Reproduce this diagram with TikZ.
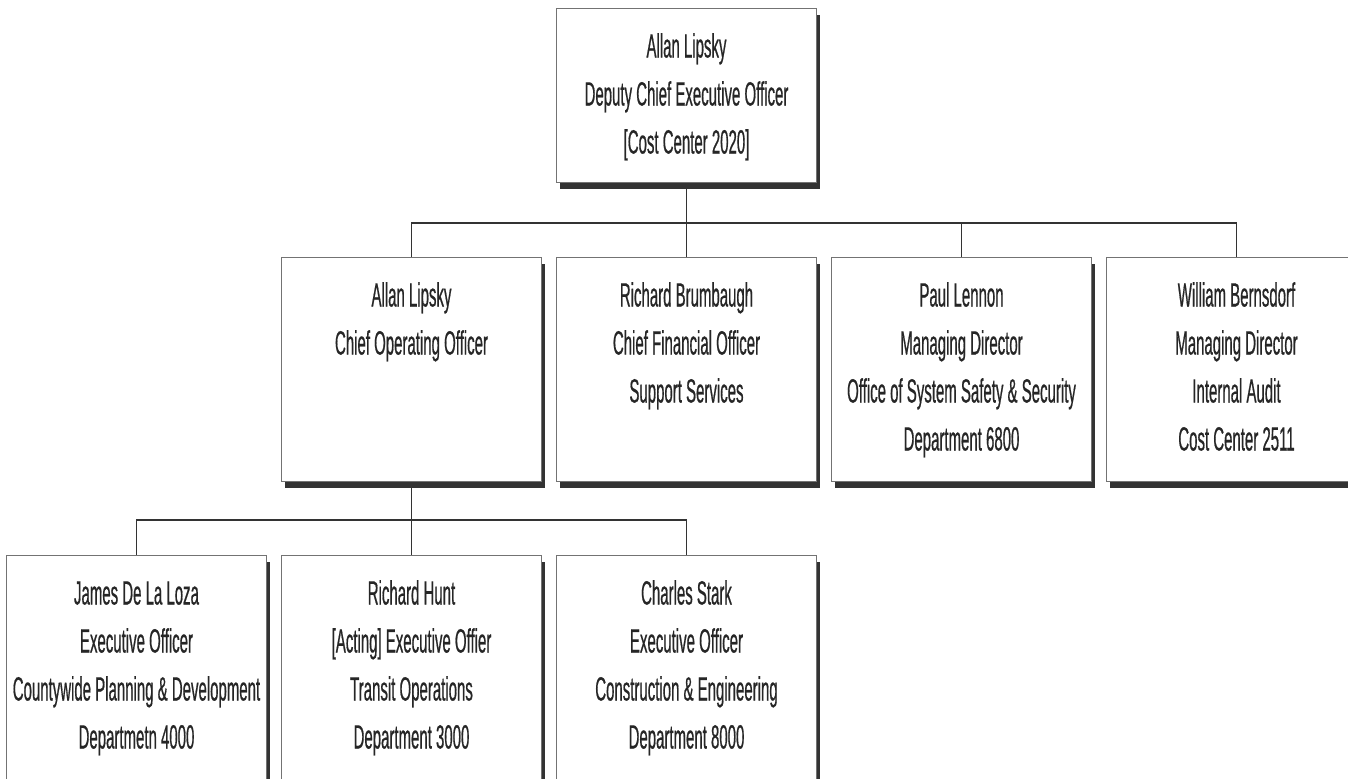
\documentclass[tikz,border=0pt]{standalone}
\usepackage{fontspec}
\setmainfont[FakeStretch=0.446, FakeBold=0.5]{Liberation Sans}
\usepackage{tikz}
\usetikzlibrary{positioning}
\usetikzlibrary{shadows}

\newcommand{\orgtext}[2][108pt]{\parbox[t][#1][t]{126pt}{\centering\baselineskip=24pt\rule{0pt}{22.5pt}#2\par}}

\begin{document}
\begin{tikzpicture}[
orgbox/.style={draw=black!55, line width=0.5pt, fill=white, inner sep=2pt,
  text=black!85, font=\fontsize{16.8pt}{24pt}\selectfont,
  drop shadow={shadow xshift=1.5pt, shadow yshift=-3pt, fill=black!80, opacity=1}},
link/.style={draw=black!80, line width=0.8pt}]
\useasboundingbox (0,0) rectangle (674pt,-389pt);

\node[orgbox, anchor=north] (dceo) at (343.25pt,-4pt)
  {\orgtext[83pt]{Allan Lipsky\\Deputy Chief Executive Officer\\{}[Cost Center 2020]}};

% second row
\node[orgbox, below=37pt of dceo] (cfo)
  {\orgtext{Richard Brumbaugh\\Chief Financial Officer\\Support Services}};
\node[orgbox, left=7pt of cfo] (coo)
  {\orgtext{Allan Lipsky\\Chief Operating Officer}};
\node[orgbox, right=7pt of cfo] (safety)
  {\orgtext{Paul Lennon\\Managing Director\\Office of System Safety \& Security\\Department 6800}};
\node[orgbox, right=7pt of safety] (audit)
  {\orgtext{William Bernsdorf\\Managing Director\\Internal Audit\\Cost Center 2511}};

% third row
\node[orgbox, below=36.5pt of coo] (transit)
  {\orgtext{Richard Hunt\\{}[Acting] Executive Offier\\Transit Operations\\Department 3000}};
\node[orgbox, left=7pt of transit] (planning)
  {\orgtext{James De La Loza\\Executive Officer\\Countywide Planning \& Development\\Departmetn 4000}};
\node[orgbox, right=7pt of transit] (construction)
  {\orgtext{Charles Stark\\Executive Officer\\Construction \& Engineering\\Department 8000}};

\coordinate[below=20pt of dceo] (bus1);
\coordinate[below=19pt of coo] (bus2);
\foreach \kid in {coo,cfo,safety,audit}
  \draw[link] (dceo.south) -- (bus1) -| (\kid.north);
\foreach \kid in {planning,transit,construction}
  \draw[link] (coo.south) -- (bus2) -| (\kid.north);
\end{tikzpicture}
\end{document}
